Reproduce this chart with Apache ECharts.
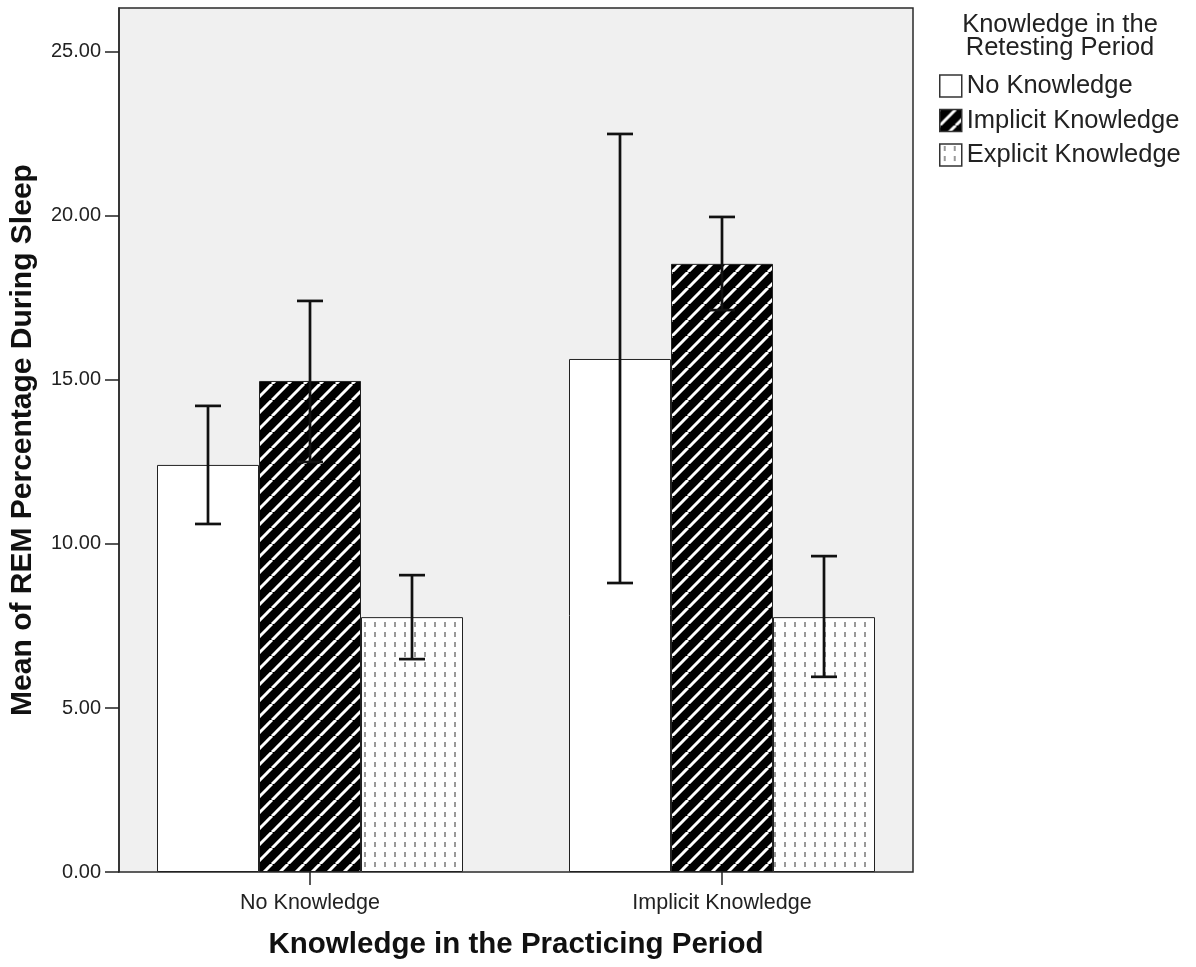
<!DOCTYPE html>
<html>
<head>
<meta charset="utf-8">
<script src="https://cdn.jsdelivr.net/npm/echarts@6/dist/echarts.min.js"></script>
<style>
  html, body { margin: 0; padding: 0; background: #ffffff; }
  #chart { width: 1196px; height: 967px; }
</style>
</head>
<body>
<div id="chart"></div>
<script>
// ---------- data ----------
const categories = ['No Knowledge', 'Implicit Knowledge'];
const seriesNames = ['No Knowledge', 'Implicit Knowledge', 'Explicit Knowledge'];
const noKnowledgeMean = [12.41, 15.64];
const implicitMean = [14.97, 18.54];
const explicitMean = [7.77, 7.77];
const noKnowledgeCI = [[10.61, 14.21], [8.81, 22.50]];
const implicitCI = [[12.50, 17.41], [17.13, 19.97]];
const explicitCI = [[6.49, 9.05], [5.95, 9.63]];
const yTicks = [0, 5, 10, 15, 20, 25];
const yMax = 26.34;

// ---------- patterns ----------
function makeHatch() {
  const P = 16;
  const c = document.createElement('canvas');
  c.width = P; c.height = P;
  const g = c.getContext('2d');
  g.fillStyle = '#000'; g.fillRect(0, 0, P, P);
  g.strokeStyle = '#fff'; g.lineWidth = 3;
  for (const k of [-P, 0, P]) {
    g.beginPath(); g.moveTo(k, P); g.lineTo(k + P, 0); g.stroke();
  }
  return c;
}
function makeDots() {
  const c = document.createElement('canvas');
  c.width = 10; c.height = 10;
  const g = c.getContext('2d');
  g.fillStyle = '#fff'; g.fillRect(0, 0, 10, 10);
  g.fillStyle = '#9a9a9a'; g.fillRect(4, 2, 2, 5);
  return c;
}
const fills = ['#ffffff', { image: makeHatch(), repeat: 'repeat' }, { image: makeDots(), repeat: 'repeat' }];
const means = [noKnowledgeMean, implicitMean, explicitMean];
const cis = [noKnowledgeCI, implicitCI, explicitCI];

const BAR_W = 102;
const CAP = 13;
const font = 'Liberation Sans, Arial, sans-serif';

const errData = [];
cis.forEach((ci, k) => ci.forEach((v, i) => errData.push([i, v[0], v[1], k])));

const chart = echarts.init(document.getElementById('chart'), null, { renderer: 'canvas' });
const option = {
  animation: false,
  backgroundColor: '#ffffff',
  textStyle: { fontFamily: font },
  grid: [
    { left: 104, right: 268, top: 8, bottom: 95 },
    { left: 119, right: 283, top: 8, bottom: 95, show: true, backgroundColor: '#f0f0f0', borderColor: '#2a2a2a', borderWidth: 1.5, z: 0 }
  ],
  xAxis: [
    {
      type: 'category', gridIndex: 0, data: categories,
      axisLine: { show: false },
      axisTick: { show: true, alignWithLabel: true, length: 13, lineStyle: { color: '#222', width: 1.5 } },
      axisLabel: { margin: 20, fontSize: 21.5, color: '#222', fontFamily: font },
      name: 'Knowledge in the Practicing Period', nameLocation: 'middle', nameGap: 58,
      nameTextStyle: { fontSize: 29.5, fontWeight: 'bold', color: '#111', fontFamily: font }
    },
    { type: 'value', gridIndex: 1, show: false, min: 0, max: 1 }
  ],
  yAxis: [
    { type: 'value', gridIndex: 0, min: 0, max: yMax, show: false },
    {
      type: 'value', gridIndex: 1, min: 0, max: yMax, interval: 5,
      axisLine: { show: true, lineStyle: { color: '#2a2a2a', width: 1.5 } },
      axisTick: { show: true, length: 14, customValues: yTicks, lineStyle: { color: '#222', width: 1.5 } },
      axisLabel: { customValues: yTicks, formatter: v => v.toFixed(2), margin: 18, fontSize: 20, color: '#222', fontFamily: font },
      splitLine: { show: false },
      name: 'Mean of REM Percentage During Sleep', nameLocation: 'middle', nameGap: 81,
      nameTextStyle: { fontSize: 30, fontWeight: 'bold', color: '#111', fontFamily: font }
    }
  ],
  legend: {
    data: seriesNames, orient: 'vertical', left: 934, top: 68,
    itemWidth: 22, itemHeight: 22, itemGap: 8.5, icon: 'rect',
    textStyle: { fontSize: 25.5, color: '#222', fontFamily: font },
    itemStyle: { borderColor: '#333', borderWidth: 1.5 }
  },
  graphic: [{
    type: 'text',
    style: { text: 'Knowledge in the\nRetesting Period', x: 1060, y: 13, textAlign: 'center', fontSize: 25.5, lineHeight: 23, fill: '#222', fontFamily: font }
  }],
  series: seriesNames.map((n, k) => ({
    type: 'bar', name: n, xAxisIndex: 0, yAxisIndex: 0,
    data: means[k], barWidth: BAR_W, barGap: '0%',
    itemStyle: { color: fills[k], borderColor: '#222', borderWidth: 1 }
  })).concat([{
    type: 'custom', name: 'ci', xAxisIndex: 0, yAxisIndex: 0, z: 10,
    encode: { x: 0, y: [1, 2] },
    data: errData,
    renderItem: (params, api) => {
      const cat = api.value(0), lo = api.value(1), hi = api.value(2), k = api.value(3);
      const pHi = api.coord([cat, hi]);
      const pLo = api.coord([cat, lo]);
      const x = pHi[0] + (k - 1) * BAR_W;
      const st = { stroke: '#111', lineWidth: 2.7 };
      return {
        type: 'group', children: [
          { type: 'line', shape: { x1: x, y1: pHi[1], x2: x, y2: pLo[1] }, style: st },
          { type: 'line', shape: { x1: x - CAP, y1: pHi[1], x2: x + CAP, y2: pHi[1] }, style: st },
          { type: 'line', shape: { x1: x - CAP, y1: pLo[1], x2: x + CAP, y2: pLo[1] }, style: st }
        ]
      };
    }
  }])
};
chart.setOption(option);
</script>
</body>
</html>
